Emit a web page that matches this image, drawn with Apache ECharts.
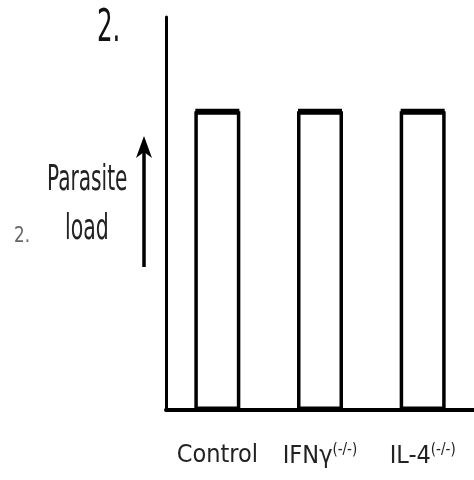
<!DOCTYPE html>
<html><head><meta charset="utf-8">
<script src="https://cdn.jsdelivr.net/npm/echarts@6/dist/echarts.min.js"></script>
<style>html,body{margin:0;padding:0;background:#fff}#c{width:474px;height:480px}</style>
</head><body><div id="c"></div>
<script>
const categories = ['Control', 'IFNγ', 'IL-4'];
const superscripts = ['', '(-/-)', '(-/-)'];
const values = [76, 76, 76];
const yMax = 100;

const FONT = "'Liberation Sans Narrow','DejaVu Sans Condensed','Open Sans',sans-serif";
const chart = echarts.init(document.getElementById('c'), null, {renderer: 'canvas'});
chart.setOption({
  backgroundColor: '#fff',
  animation: false,
  grid: {left: 166, right: 0, top: 17, bottom: 70, containLabel: false},
  xAxis: {
    type: 'category',
    data: categories,
    axisLine: {lineStyle: {color: '#000', width: 4}},
    axisTick: {show: false},
    axisLabel: {
      interval: 0,
      hideOverlap: false,
      margin: 33,
      fontFamily: FONT,
      fontSize: 25,
      color: '#222',
      formatter: function (v, i) {
        return superscripts[i] ? v + '{sup|' + superscripts[i] + '}' : v;
      },
      rich: {sup: {fontSize: 15, fontFamily: FONT, color: '#222', verticalAlign: 'top', padding: [0, 0, 12, 0]}}
    }
  },
  yAxis: {
    type: 'value',
    min: 0, max: yMax,
    axisLine: {show: true, lineStyle: {color: '#000', width: 3}},
    axisTick: {show: false},
    axisLabel: {show: false},
    splitLine: {show: false}
  },
  series: [{
    type: 'bar',
    data: values,
    barWidth: 46,
    itemStyle: {color: '#fff', borderColor: '#000', borderWidth: 3.5}
  }, {
    type: 'scatter',
    data: values,
    symbol: 'rect',
    symbolSize: [44, 5],
    itemStyle: {color: '#000', opacity: 1},
    z: 3
  }],
  graphic: [
    {type: 'text', x: 97, y: 8, scaleX: 0.62, style: {text: '2.', font: '44px ' + FONT, fill: '#111'}},
    {type: 'text', x: 47, y: 163, scaleX: 0.64, style: {text: 'Parasite', font: '35px ' + FONT, fill: '#222'}},
    {type: 'text', x: 65, y: 212, scaleX: 0.65, style: {text: 'load', font: '35px ' + FONT, fill: '#222'}},
    {type: 'text', x: 14, y: 225, scaleX: 0.85, style: {text: '2.', font: '22px ' + FONT, fill: '#666'}},
    {type: 'line', shape: {x1: 144, y1: 150, x2: 144, y2: 267}, style: {stroke: '#000', lineWidth: 3.5}},
    {type: 'polygon', shape: {points: [[144, 136], [136, 158], [144, 152], [152, 158]]}, style: {fill: '#000'}}
  ]
});
</script></body></html>
